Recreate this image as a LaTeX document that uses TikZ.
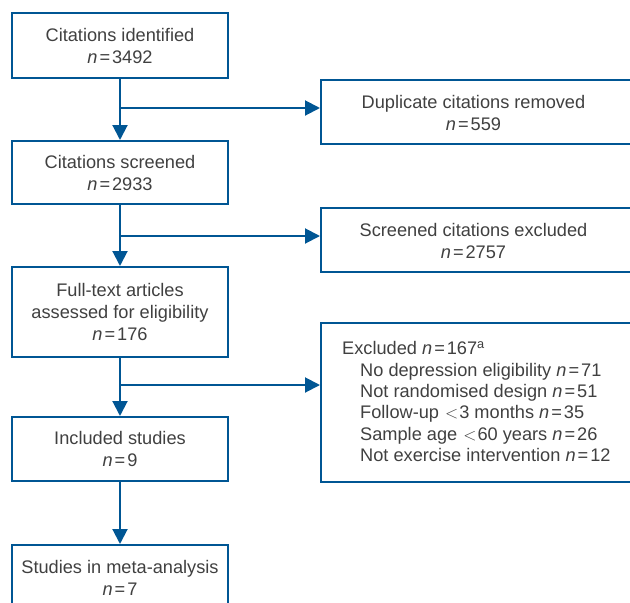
\documentclass[tikz,border=0pt]{standalone}
\usepackage{fontspec}
\setmainfont{Liberation Sans}
\usetikzlibrary{arrows.meta}
\definecolor{flowblue}{RGB}{0,86,148}
\definecolor{txtgray}{RGB}{64,64,64}
\newcommand{\nEq}{\textit{n}\kern2pt=\kern2pt}
\begin{document}
\begin{tikzpicture}[x=1pt,y=-1pt,
  every node/.style={text=txtgray, font=\fontsize{18.2}{22}\selectfont},
  lbox/.style={draw=flowblue, line width=2pt, minimum width=216, align=center, inner sep=0},
  rframe/.style={draw=flowblue, line width=2pt, minimum width=320, anchor=north west, inner sep=0},
  rtext/.style={align=center, inner sep=0},
  arr/.style={draw=flowblue, line width=2pt, -{Triangle[width=15pt,length=15pt]}},
  ln/.style={draw=flowblue, line width=2pt}]
\useasboundingbox (0,0) rectangle (630,603);
\clip (0,0) rectangle (630,603);
% left column
\node[lbox, minimum height=65] (b1) at (120,45.5) {Citations identified\\ \nEq3492};
\node[lbox, minimum height=63] (b2) at (120,172.5) {Citations screened\\ \nEq2933};
\node[lbox, minimum height=90] (b3) at (120,312) {Full-text articles\\ assessed for eligibility\\ \nEq176};
\node[lbox, minimum height=64] (b4) at (120,449) {Included studies\\ \nEq9};
\node[lbox, minimum height=66] (b5) at (120,578) {Studies in meta-analysis\\ \nEq7};
% right column frames
\node[rframe, minimum height=64] (r1) at (320,79) {};
\node[rframe, minimum height=64] (r2) at (320,207) {};
\node[rframe, minimum height=159] (r3) at (320,322) {};
% right column texts
\node[rtext] (t1) at (473.5,113) {Duplicate citations removed\\ \nEq559};
\node[rtext] (t2) at (473.5,240.5) {Screened citations excluded\\ \nEq2757};
\node[anchor=north west, align=left, inner sep=0, font=\fontsize{18.2}{21.3}\selectfont] (t3) at (342,341.5)
  {Excluded \nEq167\textsuperscript{a}\\
   \hspace*{18pt}No depression eligibility \nEq71\\
   \hspace*{18pt}Not randomised design \nEq51\\
   \hspace*{18pt}Follow-up \kern1pt$<$\kern1pt3 months \nEq35\\
   \hspace*{18pt}Sample age \kern1pt$<$\kern1pt60 years \nEq26\\
   \hspace*{18pt}Not exercise intervention \nEq12};
% branch points
\coordinate (c1) at (120,108);
\coordinate (c2) at (120,236);
\coordinate (c3) at (120,385);
% vertical arrows
\draw[arr] (b1) -- (b2);
\draw[arr] (b2) -- (b3);
\draw[arr] (b3) -- (b4);
\draw[arr] (b4) -- (b5);
% horizontal arrows
\draw[arr] (c1) -- (c1 -| r1.west);
\draw[arr] (c2) -- (c2 -| r2.west);
\draw[arr] (c3) -- (c3 -| r3.west);
\end{tikzpicture}
\end{document}
